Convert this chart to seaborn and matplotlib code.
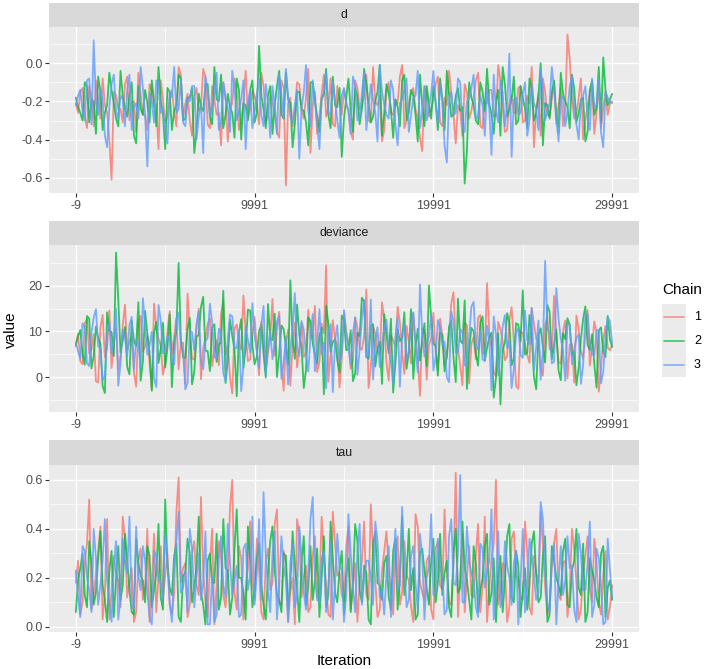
import numpy as np
import pandas as pd
import matplotlib
matplotlib.use("Agg")
import matplotlib.pyplot as plt
import seaborn as sns
from matplotlib.ticker import FixedLocator, FormatStrFormatter
from matplotlib.lines import Line2D
from matplotlib.patches import Rectangle

# ---------------- data ----------------
# samples at iterations -9, 241, 491, ... and the in-between samples 116, 366, ...
iterations_a = np.arange(-9, 29992, 250)
iterations_b = np.arange(116, 29991, 250)
chains = ["1", "2", "3"]
parameters = ["d", "deviance", "tau"]
x_ticks = [-9, 9991, 19991, 29991]
x_minor = [4991, 14991, 24991]

d_chain1 = [-0.21,-0.15,-0.28,-0.12,-0.33,-0.19,-0.08,-0.26,-0.61,-0.17,
-0.24,-0.11,-0.30,-0.20,-0.05,-0.27,-0.35,-0.14,-0.22,-0.09,
-0.31,-0.18,-0.25,-0.02,-0.29,-0.16,-0.38,-0.13,-0.23,-0.07,
-0.34,-0.19,-0.26,-0.10,-0.41,-0.21,-0.15,-0.30,-0.04,-0.24,
-0.17,-0.32,-0.12,-0.27,-0.20,-0.36,-0.09,-0.64,-0.18,-0.25,
-0.11,-0.29,-0.03,-0.22,-0.37,-0.16,-0.28,-0.08,-0.33,-0.19,
-0.14,-0.26,-0.40,-0.13,-0.23,-0.06,-0.31,-0.20,-0.17,-0.35,
-0.10,-0.27,-0.21,-0.01,-0.30,-0.15,-0.24,-0.39,-0.12,-0.28,
-0.19,-0.07,-0.33,-0.22,-0.16,-0.42,-0.25,-0.11,-0.29,-0.18,
-0.05,-0.34,-0.21,-0.14,-0.27,-0.09,-0.36,-0.20,-0.26,-0.13,
-0.31,-0.17,-0.02,-0.24,-0.38,-0.15,-0.28,-0.10,-0.22,-0.33,
0.15,-0.19,-0.26,-0.08,-0.30,-0.16,-0.37,-0.12,-0.23,-0.27,
-0.20]
d_chain1_b = [-0.26,-0.13,-0.34,-0.18,-0.09,-0.29,-0.22,-0.40,-0.15,-0.24,
-0.31,-0.07,-0.20,-0.36,-0.16,-0.27,-0.11,-0.23,-0.45,-0.19,
-0.28,-0.14,-0.33,-0.06,-0.21,-0.30,-0.17,-0.25,-0.03,-0.32,
-0.12,-0.27,-0.43,-0.18,-0.24,-0.08,-0.35,-0.20,-0.29,-0.14,
-0.22,-0.05,-0.31,-0.17,-0.26,-0.39,-0.13,-0.21,-0.33,-0.10,
-0.25,-0.18,-0.47,-0.15,-0.28,-0.06,-0.23,-0.32,-0.12,-0.27,
-0.20,-0.36,-0.09,-0.24,-0.17,-0.30,-0.02,-0.22,-0.41,-0.14,
-0.26,-0.19,-0.07,-0.34,-0.21,-0.13,-0.29,-0.46,-0.16,-0.24,
-0.11,-0.31,-0.18,-0.04,-0.27,-0.22,-0.38,-0.15,-0.25,-0.09,
-0.33,-0.20,-0.14,-0.28,-0.01,-0.23,-0.35,-0.17,-0.26,-0.12,
-0.30,-0.21,-0.44,-0.16,-0.08,-0.27,-0.19,-0.32,-0.13,-0.24,
0.02,-0.29,-0.18,-0.40,-0.22,-0.11,-0.26,-0.34,-0.15,-0.21]
d_chain2 = [-0.18,-0.26,-0.10,-0.31,-0.20,-0.07,-0.35,-0.22,-0.14,-0.29,
-0.04,-0.24,-0.17,-0.38,-0.12,-0.27,-0.21,-0.09,-0.33,-0.19,
-0.45,-0.15,-0.25,-0.06,-0.30,-0.18,-0.13,-0.36,-0.23,-0.11,
-0.28,-0.02,-0.20,-0.34,-0.16,-0.26,-0.08,-0.40,-0.22,-0.14,
-0.31,0.09,-0.24,-0.17,-0.37,-0.12,-0.27,-0.05,-0.21,-0.32,
-0.15,-0.25,-0.43,-0.10,-0.28,-0.19,-0.03,-0.34,-0.22,-0.13,
-0.29,-0.08,-0.36,-0.18,-0.24,-0.11,-0.31,-0.20,-0.01,-0.26,
-0.16,-0.39,-0.23,-0.09,-0.30,-0.14,-0.27,-0.06,-0.33,-0.21,
-0.12,-0.35,-0.19,-0.04,-0.28,-0.17,-0.25,-0.63,-0.10,-0.22,
-0.32,-0.15,-0.03,-0.27,-0.20,-0.38,-0.11,-0.24,-0.07,-0.30,
-0.18,-0.34,-0.13,-0.26,-0.00,-0.21,-0.29,-0.09,-0.36,-0.16,
-0.23,-0.06,-0.31,-0.19,-0.41,-0.14,-0.27,-0.02,0.03,-0.22,
-0.16]
d_chain2_b = [-0.23,-0.30,-0.12,-0.19,-0.37,-0.15,-0.26,-0.05,-0.21,-0.33,
-0.17,-0.28,-0.10,-0.42,-0.24,-0.14,-0.31,-0.20,-0.02,-0.27,
-0.13,-0.35,-0.22,-0.08,-0.29,-0.18,-0.47,-0.16,-0.25,-0.11,
-0.32,-0.19,-0.06,-0.27,-0.23,-0.39,-0.14,-0.21,-0.30,-0.09,
-0.26,-0.17,-0.34,-0.12,-0.22,-0.04,-0.29,-0.19,-0.44,-0.15,
-0.24,-0.31,-0.10,-0.20,-0.36,-0.16,-0.27,-0.07,-0.23,-0.49,
-0.18,-0.25,-0.13,-0.32,-0.03,-0.21,-0.28,-0.15,-0.38,-0.11,
-0.24,-0.19,-0.33,-0.06,-0.26,-0.17,-0.41,-0.22,-0.12,-0.29,
-0.20,-0.08,-0.35,-0.16,-0.27,-0.13,-0.23,-0.46,-0.18,-0.30,
-0.10,-0.25,-0.21,-0.37,-0.14,-0.02,-0.28,-0.19,-0.32,-0.12,
-0.24,-0.08,-0.30,-0.17,-0.43,-0.22,-0.15,-0.27,-0.05,-0.20,
-0.34,-0.13,-0.26,-0.18,-0.36,-0.09,-0.23,-0.31,-0.14,-0.19]
d_chain3 = [-0.22,-0.14,-0.30,-0.08,0.12,-0.27,-0.19,-0.44,-0.11,-0.25,
-0.17,-0.33,-0.06,-0.23,-0.29,-0.13,-0.54,-0.20,-0.09,-0.26,
-0.36,-0.15,-0.02,-0.24,-0.31,-0.18,-0.12,-0.40,-0.21,-0.07,
-0.28,-0.16,-0.35,-0.10,-0.23,-0.04,-0.30,-0.19,-0.45,-0.14,
-0.26,-0.08,-0.33,-0.21,-0.12,-0.37,-0.17,-0.03,-0.28,-0.22,
-0.50,-0.15,-0.25,-0.09,-0.32,-0.18,-0.05,-0.27,-0.20,-0.39,
-0.13,-0.24,-0.07,-0.30,-0.16,-0.35,-0.11,-0.26,-0.01,-0.22,
-0.29,-0.14,-0.43,-0.19,-0.08,-0.27,-0.17,-0.34,-0.12,-0.23,
-0.04,-0.31,-0.20,-0.52,-0.15,-0.26,-0.10,-0.36,-0.18,-0.06,
-0.28,-0.22,-0.13,-0.48,-0.25,-0.09,-0.33,0.05,-0.19,-0.27,
-0.16,-0.38,-0.11,-0.24,-0.03,-0.30,-0.21,-0.14,-0.41,-0.17,
-0.25,-0.07,-0.32,-0.20,-0.12,-0.35,-0.23,-0.09,-0.44,-0.18,
-0.21]
d_chain3_b = [-0.17,-0.25,-0.09,-0.32,-0.20,-0.13,-0.38,-0.23,-0.06,-0.29,
-0.19,-0.14,-0.35,-0.21,-0.02,-0.27,-0.16,-0.31,-0.10,-0.24,
-0.42,-0.18,-0.26,-0.08,-0.33,-0.20,-0.12,-0.28,-0.47,-0.15,
-0.23,-0.05,-0.30,-0.19,-0.36,-0.13,-0.25,-0.09,-0.21,-0.34,
-0.16,-0.27,-0.11,-0.39,-0.22,-0.06,-0.29,-0.18,-0.31,-0.14,
-0.24,-0.01,-0.33,-0.20,-0.45,-0.15,-0.26,-0.10,-0.30,-0.17,
-0.22,-0.37,-0.12,-0.28,-0.05,-0.23,-0.19,-0.41,-0.15,-0.27,
-0.09,-0.32,-0.21,-0.14,-0.36,-0.18,-0.04,-0.25,-0.30,-0.16,
-0.22,-0.11,-0.43,-0.19,-0.27,-0.08,-0.33,-0.20,-0.13,-0.29,
-0.17,-0.38,-0.24,-0.06,-0.31,-0.15,-0.22,-0.49,-0.18,-0.26,
-0.10,-0.30,-0.21,-0.35,-0.14,-0.25,-0.02,-0.28,-0.19,-0.33,
-0.12,-0.24,-0.40,-0.17,-0.29,-0.08,-0.22,-0.36,-0.15,-0.20]

deviance_chain1 = [7.2,3.5,11.8,5.1,9.4,-1.2,13.6,6.3,2.0,10.7,
4.8,15.9,7.7,0.9,12.3,5.6,8.9,-2.8,11.1,6.8,
3.2,14.4,9.0,1.7,7.5,18.3,4.1,10.2,-0.5,8.6,
12.9,5.9,2.6,16.7,7.0,-3.6,11.5,6.1,9.8,3.9,
13.2,0.4,8.2,5.3,17.1,10.4,2.9,7.9,-1.9,12.0,
6.6,4.4,14.8,9.3,1.1,11.7,24.5,5.0,8.4,-2.3,
13.9,7.1,3.6,10.9,6.0,19.2,2.2,9.6,4.7,12.6,
-0.8,8.0,15.4,5.5,11.2,3.0,7.4,-4.1,10.0,6.9,
14.1,1.5,9.1,4.2,16.2,7.8,2.4,11.9,-1.4,8.7,
13.0,5.2,20.6,6.5,0.2,10.5,3.7,12.4,7.6,-2.6,
9.7,4.9,15.1,8.3,1.9,11.4,6.2,17.8,3.3,10.1,
-0.3,7.3,13.5,5.7,9.2,2.5,12.2,-3.2,8.1,6.4,
7.0]
deviance_chain1_b = [9.5,2.8,12.7,6.0,-0.9,10.8,4.3,14.6,7.2,1.6,
11.3,5.8,9.0,-2.1,13.4,6.7,3.0,16.1,8.4,0.5,
10.1,4.9,12.9,7.6,-1.5,9.9,3.8,15.0,6.3,11.6,
2.4,8.1,13.8,5.0,-0.2,10.6,7.4,17.9,3.5,9.2,
6.1,12.2,1.3,8.8,4.7,14.3,-3.0,10.4,6.9,2.1,
11.9,5.4,8.3,15.6,3.3,9.6,-1.0,12.5,7.0,4.1,
10.3,1.8,13.1,6.4,8.9,-2.4,11.0,5.7,16.4,3.2,
9.1,6.6,12.0,0.7,7.8,14.0,4.4,10.7,-0.6,8.5,
5.3,12.8,2.6,9.4,18.6,6.2,-1.8,11.4,7.3,3.9,
13.6,5.1,9.8,1.0,12.1,7.9,4.6,15.3,-2.0,10.0,
6.8,3.1,11.7,8.2,0.3,13.3,5.5,9.3,2.9,12.4,
7.1,-1.2,10.5,4.0,14.7,6.5,9.7,1.9,11.2,5.9]
deviance_chain2 = [6.8,10.3,2.7,12.8,4.6,8.5,-2.0,14.2,9.9,27.3,
5.4,11.0,0.6,7.9,16.4,3.4,9.5,-3.0,12.1,6.2,
2.1,13.7,7.6,25.0,4.3,10.6,-1.6,8.8,15.3,5.8,
1.3,11.6,7.2,18.9,3.8,9.0,-4.2,12.7,6.5,14.6,
2.8,10.1,5.0,16.0,8.1,0.0,11.3,6.7,21.2,4.0,
9.4,-2.4,13.1,7.4,3.1,10.8,15.7,5.6,8.3,1.0,
12.5,6.1,-0.9,9.7,17.4,4.5,11.2,2.3,7.7,13.8,
5.2,-3.4,10.4,8.6,1.8,14.9,6.9,3.6,11.8,20.1,
7.3,0.3,9.2,4.7,12.3,-1.1,8.0,16.8,5.9,10.0,
2.5,13.3,6.4,9.8,-0.2,-6.0,7.5,12.0,4.1,11.5,
19.0,5.3,8.9,-2.7,10.7,3.2,14.3,7.1,1.4,9.6,
12.9,4.8,-1.8,8.4,15.5,6.0,2.9,10.2,5.5,13.4,
6.6]
deviance_chain2_b = [9.0,5.1,13.4,1.9,11.1,7.3,-3.5,10.2,4.6,16.9,
8.0,2.2,12.4,6.8,-0.8,14.5,5.5,9.6,3.1,11.9,
6.4,-2.2,10.0,8.3,4.2,13.0,1.1,9.3,17.6,5.7,
10.9,3.3,7.5,-1.3,12.6,6.0,9.8,2.0,14.8,7.1,
4.5,11.4,-0.1,8.6,13.9,5.2,10.5,2.7,8.0,15.9,
6.6,1.6,12.2,4.8,9.1,-3.8,11.7,7.7,3.7,13.5,
5.9,10.3,0.8,8.9,16.6,4.0,11.6,6.3,-1.5,9.5,
12.8,3.0,7.9,14.2,5.4,-0.4,10.6,8.1,2.4,13.1,
6.9,9.9,1.2,11.0,4.3,17.2,7.4,-2.6,10.8,5.0,
12.0,3.5,8.7,-4.5,9.6,6.1,14.0,2.6,11.8,7.8,
4.9,13.6,0.1,9.2,6.5,15.8,3.9,10.4,-0.7,8.3,
11.5,5.6,2.1,12.7,7.0,9.4,-2.3,10.9,4.4,8.2]
deviance_chain3 = [7.5,4.0,10.9,2.4,13.0,6.7,-0.7,9.3,5.1,15.0,
3.0,8.7,11.4,1.6,7.1,17.3,4.9,10.0,-2.2,12.4,
6.0,8.2,2.7,14.1,5.7,-1.3,9.9,11.7,3.5,7.8,
16.1,4.4,10.6,0.8,8.5,13.3,6.3,-3.1,11.0,5.4,
9.1,2.0,15.6,7.0,3.9,12.2,-0.4,8.8,6.1,18.4,
4.6,10.3,1.2,13.8,7.3,5.0,-2.5,11.6,8.0,3.3,
14.7,6.5,9.6,0.5,12.7,4.3,17.0,7.7,2.2,10.8,
5.8,-1.7,13.0,8.4,3.7,11.1,6.8,20.3,4.5,9.0,
1.4,12.5,7.0,-0.1,14.4,5.3,10.5,2.6,8.9,16.5,
6.2,3.8,11.3,-2.9,9.4,5.5,13.6,7.9,1.9,10.7,
4.2,8.1,15.2,6.6,-0.6,25.5,9.7,3.4,12.8,5.9,
11.9,2.8,8.6,-1.5,14.0,7.2,4.7,10.4,1.1,13.1,
7.4]
deviance_chain3_b = [5.6,11.8,3.1,9.7,14.9,6.4,0.2,12.0,7.9,-1.9,
10.4,4.5,13.2,8.3,2.0,11.5,6.9,-0.3,15.8,5.2,
9.0,3.6,12.8,7.1,-2.7,10.1,5.9,14.4,1.7,8.6,
11.9,4.1,9.5,-0.9,13.7,6.6,10.3,2.5,8.1,16.2,
5.3,11.2,0.6,9.9,7.5,13.4,3.2,-1.6,10.7,6.2,
12.3,4.8,8.5,1.3,14.9,7.6,10.0,-3.3,11.4,5.1,
9.2,2.9,13.1,6.0,16.9,4.6,-0.5,10.9,7.3,12.6,
3.4,8.8,-2.1,11.6,5.7,14.2,1.0,9.4,6.8,13.9,
4.3,10.6,7.8,-1.1,12.1,5.4,9.7,2.3,15.4,6.5,
10.2,3.7,8.0,13.3,0.4,11.1,6.3,-2.4,9.8,4.9,
14.6,7.2,1.5,12.4,5.8,10.8,3.0,19.5,8.4,-0.8,
11.3,6.1,9.3,2.7,13.8,5.0,10.1,-1.4,8.7,12.2]

tau_chain1 = [0.18,0.05,0.26,0.52,0.12,0.31,0.03,0.44,0.15,0.22,
0.08,0.36,0.19,0.02,0.27,0.11,0.40,0.16,0.06,0.33,
0.21,0.09,0.14,0.61,0.24,0.04,0.30,0.17,0.53,0.10,
0.25,0.01,0.35,0.13,0.20,0.60,0.07,0.28,0.15,0.43,
0.11,0.23,0.03,0.32,0.18,0.48,0.09,0.26,0.14,0.01,
0.38,0.20,0.06,0.29,0.12,0.45,0.17,0.04,0.34,0.22,
0.10,0.41,0.16,0.02,0.27,0.13,0.50,0.19,0.07,0.31,
0.24,0.05,0.37,0.14,0.21,0.08,0.46,0.18,0.11,0.29,
0.03,0.35,0.15,0.23,0.09,0.63,0.20,0.06,0.33,0.12,
0.42,0.17,0.02,0.28,0.60,0.14,0.25,0.08,0.39,0.19,
0.11,0.30,0.05,0.22,0.47,0.16,0.09,0.34,0.13,0.26,
0.04,0.40,0.18,0.07,0.29,0.15,0.36,0.10,0.21,0.03,
0.17]
tau_chain1_b = [0.27,0.10,0.34,0.07,0.22,0.41,0.14,0.03,0.29,0.19,
0.45,0.12,0.24,0.06,0.32,0.16,0.02,0.38,0.21,0.11,
0.30,0.05,0.47,0.18,0.26,0.09,0.35,0.13,0.22,0.04,
0.40,0.17,0.28,0.08,0.49,0.14,0.33,0.03,0.24,0.19,
0.36,0.06,0.27,0.15,0.42,0.10,0.31,0.02,0.20,0.44,
0.12,0.25,0.08,0.37,0.16,0.29,0.05,0.47,0.21,0.13,
0.33,0.07,0.26,0.18,0.43,0.11,0.30,0.04,0.23,0.39,
0.15,0.28,0.09,0.35,0.19,0.02,0.41,0.14,0.27,0.07,
0.32,0.17,0.48,0.10,0.25,0.04,0.38,0.20,0.13,0.30,
0.06,0.45,0.16,0.34,0.09,0.26,0.02,0.36,0.21,0.12,
0.43,0.08,0.29,0.18,0.33,0.05,0.24,0.40,0.11,0.27,
0.15,0.32,0.03,0.22,0.37,0.10,0.26,0.05,0.31,0.08]
tau_chain2 = [0.06,0.24,0.13,0.35,0.09,0.28,0.17,0.02,0.31,0.20,
0.11,0.38,0.15,0.05,0.26,0.19,0.33,0.08,0.22,0.12,
0.52,0.16,0.29,0.04,0.21,0.36,0.10,0.25,0.14,0.01,
0.30,0.18,0.07,0.44,0.23,0.12,0.48,0.20,0.03,0.27,
0.15,0.34,0.09,0.22,0.41,0.13,0.06,0.29,0.18,0.25,
0.02,0.37,0.16,0.11,0.32,0.20,0.08,0.43,0.14,0.24,
0.05,0.28,0.19,0.35,0.10,0.22,0.01,0.39,0.17,0.26,
0.12,0.31,0.07,0.45,0.21,0.15,0.03,0.30,0.23,0.09,
0.36,0.18,0.13,0.27,0.04,0.40,0.16,0.24,0.11,0.33,
0.06,0.20,0.38,0.14,0.02,0.29,0.19,0.42,0.10,0.25,
0.15,0.07,0.34,0.21,0.12,0.37,0.05,0.27,0.17,0.31,
0.09,0.23,0.40,0.13,0.02,0.28,0.19,0.08,0.33,0.16,
0.11]
tau_chain2_b = [0.19,0.30,0.08,0.26,0.14,0.39,0.11,0.23,0.04,0.33,
0.17,0.27,0.06,0.36,0.21,0.10,0.29,0.15,0.42,0.07,
0.25,0.13,0.34,0.02,0.22,0.30,0.16,0.45,0.09,0.27,
0.18,0.38,0.12,0.24,0.05,0.32,0.20,0.14,0.41,0.08,
0.28,0.17,0.03,0.35,0.23,0.11,0.30,0.07,0.39,0.16,
0.26,0.09,0.33,0.19,0.04,0.37,0.13,0.28,0.10,0.31,
0.21,0.06,0.42,0.15,0.25,0.03,0.34,0.18,0.11,0.29,
0.07,0.36,0.20,0.13,0.40,0.24,0.05,0.32,0.16,0.27,
0.10,0.38,0.22,0.08,0.30,0.14,0.43,0.19,0.03,0.26,
0.15,0.33,0.09,0.28,0.21,0.06,0.37,0.12,0.31,0.04,
0.24,0.17,0.39,0.10,0.29,0.02,0.33,0.20,0.13,0.36,
0.08,0.27,0.16,0.34,0.06,0.23,0.12,0.30,0.04,0.19]
tau_chain3 = [0.23,0.04,0.31,0.15,0.40,0.09,0.27,0.19,0.02,0.35,
0.12,0.26,0.45,0.07,0.21,0.33,0.14,0.01,0.29,0.18,
0.38,0.10,0.24,0.47,0.16,0.06,0.32,0.20,0.11,0.39,
0.01,0.02,0.28,0.17,0.42,0.13,0.25,0.05,0.34,0.21,
0.09,0.44,0.55,0.15,0.30,0.03,0.37,0.19,0.26,0.08,
0.41,0.14,0.22,0.53,0.11,0.28,0.06,0.35,0.18,0.24,
0.02,0.46,0.16,0.31,0.09,0.27,0.20,0.43,0.12,0.05,
0.33,0.22,0.15,0.49,0.08,0.29,0.18,0.38,0.03,0.25,
0.13,0.36,0.21,0.07,0.44,0.17,0.62,0.10,0.27,0.19,
0.04,0.32,0.23,0.48,0.14,0.08,0.35,0.20,0.26,0.01,
0.40,0.16,0.29,0.11,0.51,0.22,0.06,0.34,0.18,0.13,
0.37,0.25,0.02,0.30,0.15,0.43,0.09,0.28,0.01,0.36,
0.12]
tau_chain3_b = [0.12,0.33,0.20,0.06,0.28,0.17,0.44,0.10,0.25,0.03,
0.36,0.22,0.09,0.41,0.15,0.27,0.04,0.31,0.19,0.11,
0.26,0.02,0.35,0.14,0.23,0.40,0.08,0.30,0.18,0.01,
0.21,0.05,0.37,0.12,0.26,0.19,0.04,0.32,0.15,0.45,
0.22,0.11,0.29,0.06,0.39,0.17,0.25,0.02,0.34,0.13,
0.28,0.07,0.44,0.20,0.10,0.31,0.16,0.03,0.38,0.24,
0.13,0.30,0.06,0.42,0.19,0.27,0.09,0.35,0.15,0.22,
0.04,0.40,0.17,0.26,0.11,0.33,0.07,0.29,0.20,0.46,
0.14,0.24,0.05,0.37,0.18,0.30,0.10,0.41,0.22,0.08,
0.34,0.16,0.27,0.03,0.39,0.13,0.25,0.09,0.31,0.18,
0.06,0.36,0.21,0.14,0.44,0.10,0.28,0.01,0.33,0.19,
0.24,0.07,0.38,0.15,0.26,0.04,0.32,0.17,0.02,0.23]

y_ticks = {"d": [-0.6, -0.4, -0.2, 0.0],
           "deviance": [0, 10, 20],
           "tau": [0.0, 0.2, 0.4, 0.6]}
y_minor = {"d": [-0.5, -0.3, -0.1, 0.1],
           "deviance": [-5, 5, 15, 25],
           "tau": [0.1, 0.3, 0.5]}
y_fmt = {"d": "%.1f", "deviance": "%d", "tau": "%.1f"}

series = {
    "d": [(d_chain1, d_chain1_b), (d_chain2, d_chain2_b), (d_chain3, d_chain3_b)],
    "deviance": [(deviance_chain1, deviance_chain1_b),
                 (deviance_chain2, deviance_chain2_b),
                 (deviance_chain3, deviance_chain3_b)],
    "tau": [(tau_chain1, tau_chain1_b), (tau_chain2, tau_chain2_b),
            (tau_chain3, tau_chain3_b)],
}

frames = []
for p in parameters:
    for c, (va, vb) in zip(chains, series[p]):
        frames.append(pd.DataFrame({"Iteration": iterations_a, "value": va,
                                    "Chain": c, "Parameter": p}))
        frames.append(pd.DataFrame({"Iteration": iterations_b, "value": vb,
                                    "Chain": c, "Parameter": p}))
df = pd.concat(frames, ignore_index=True)

# ---------------- style ----------------
sns.set_theme(style="darkgrid", rc={"axes.facecolor": "#EBEBEB",
                                    "grid.color": "white"})
plt.rcParams["font.family"] = ["Liberation Sans", "DejaVu Sans"]

palette = {"1": "#F8766D", "2": "#00BA38", "3": "#619CFF"}

W, H = 704, 669
fig = plt.figure(figsize=(W / 100, H / 100), dpi=100)
fig.patch.set_facecolor("white")

L, R = 49, 639
panels = [(3, 27, 193), (221, 245, 412), (440, 465, 632)]

for p, (st, top, bot) in zip(parameters, panels):
    ax = fig.add_axes([L / W, 1 - bot / H, (R - L) / W, (bot - top) / H])
    sub = df[df["Parameter"] == p]
    sns.lineplot(data=sub, x="Iteration", y="value", hue="Chain",
                 hue_order=chains, palette=palette, estimator=None,
                 sort=True, legend=False, linewidth=1.3, alpha=0.8, ax=ax)
    ax.margins(x=0.05, y=0.05)
    ax.xaxis.set_major_locator(FixedLocator(x_ticks))
    ax.xaxis.set_minor_locator(FixedLocator(x_minor))
    ax.yaxis.set_major_locator(FixedLocator(y_ticks[p]))
    ax.yaxis.set_minor_locator(FixedLocator(y_minor[p]))
    ax.yaxis.set_major_formatter(FormatStrFormatter(y_fmt[p]))
    ax.set_xticklabels([str(t) for t in x_ticks])
    ax.grid(which="major", color="white", linewidth=1.0)
    ax.grid(which="minor", color="white", linewidth=0.5)
    ax.set_axisbelow(True)
    ax.tick_params(which="major", bottom=True, left=True, length=2.7,
                   width=0.8, color="#333333", labelcolor="#4D4D4D",
                   labelsize=9, pad=2)
    ax.tick_params(which="minor", length=0)
    ax.set_xlabel("")
    ax.set_ylabel("")
    for s in ax.spines.values():
        s.set_visible(False)

    sax = fig.add_axes([L / W, 1 - top / H, (R - L) / W, (top - st) / H])
    sax.set_facecolor("#D9D9D9")
    sax.set_xticks([])
    sax.set_yticks([])
    sax.grid(False)
    for s in sax.spines.values():
        s.set_visible(False)
    sax.text(0.5, 0.5, p, ha="center", va="center", transform=sax.transAxes,
             fontsize=8.8, color="#1A1A1A")

fig.text(344 / W, 1 - 661 / H, "Iteration", ha="center", va="center",
         fontsize=11, color="black")
fig.text(11 / W, 1 - 330 / H, "value", ha="center", va="center",
         rotation=90, fontsize=11, color="black")

# legend
fig.text(662 / W, 1 - 290 / H, "Chain", ha="left", va="center",
         fontsize=11, color="black")
fig.add_artist(Rectangle((662 / W, 1 - 377 / H), 24 / W, 73 / H,
                         transform=fig.transFigure, facecolor="#EBEBEB",
                         edgecolor="none"))
for i, c in enumerate(chains):
    yy = 1 - (317 + 24 * i) / H
    fig.add_artist(Line2D([664 / W, 684 / W], [yy, yy],
                          transform=fig.transFigure, color=palette[c],
                          lw=1.2, alpha=0.75))
    fig.text(694 / W, yy, c, ha="left", va="center", fontsize=9,
             color="black")

fig.savefig("out.png", dpi=100)
